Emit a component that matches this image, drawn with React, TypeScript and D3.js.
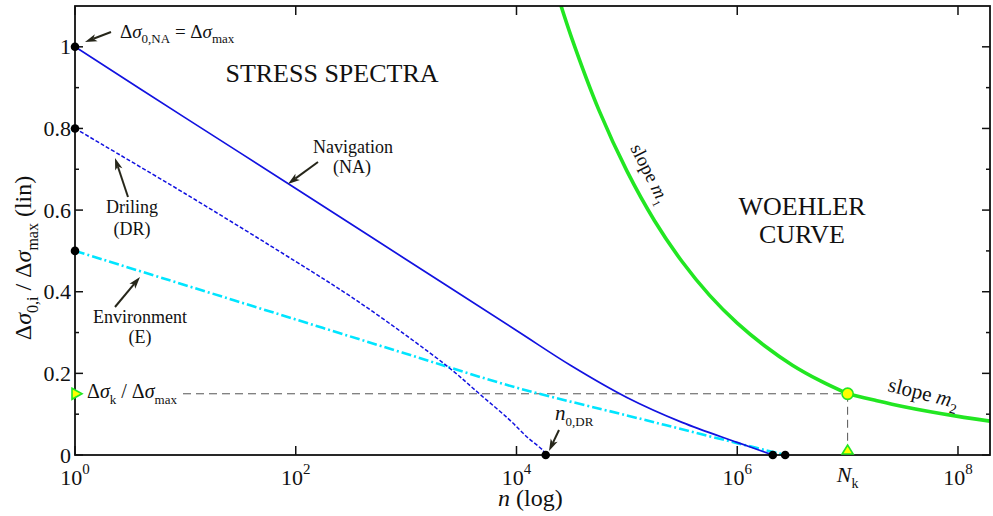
import React from 'react';
import * as d3 from 'd3';

// ---------- data ----------
const X_TICKS = [1, 1e2, 1e4, 1e6, 1e8];
const X_TICK_EXP = ['0', '2', '4', '6', '8'];
const Y_MAJOR = [0, 0.2, 0.4, 0.6, 0.8, 1.0];
const Y_MAJOR_LABELS = ['0', '0.2', '0.4', '0.6', '0.8', '1'];
const Y_MINOR = [0.1, 0.3, 0.5, 0.7, 0.9];

// Navigation (NA) spectrum
const NA_N = [1, 10, 100, 1e3, 1e4, 3.16e4, 1e5, 3.16e5, 1e6, 2.1e6];
const NA_V = [1.0, 0.826, 0.653, 0.479, 0.305, 0.218, 0.141, 0.08, 0.031, 0];
// Drilling (DR) spectrum
const DR_N = [1, 10, 100, 316, 1000, 2500, 4700, 8500, 12600, 17400, 18400];
const DR_V = [0.8, 0.64, 0.474, 0.388, 0.293, 0.212, 0.148, 0.088, 0.043, 0.011, 0];
// Environment (E) spectrum
const E_N = [1, 10, 100, 1e3, 1e4, 1e5, 3.16e5, 1e6, 2.72e6];
const E_V = [0.5, 0.416, 0.332, 0.248, 0.165, 0.097, 0.063, 0.029, 0];
// Woehler curve, slope m1 part and slope m2 part
const W1_N = [2.2e4, 3.16e4, 5.62e4, 1e5, 1.78e5, 3.16e5, 5.62e5, 1e6, 1.78e6, 3.16e6, 5.62e6, 1e7];
const W1_V = [1.153, 1.022, 0.843, 0.696, 0.574, 0.474, 0.391, 0.323, 0.267, 0.22, 0.182, 0.15];
const W2_N = [1e7, 1.78e7, 3.16e7, 5.62e7, 1e8, 1.95e8];
const W2_V = [0.15, 0.134, 0.119, 0.106, 0.0946, 0.083];
// key points
const N_K = 1e7;
const S_K = 0.15;
const START_V = [1.0, 0.8, 0.5];
const END_N = [18400, 2.1e6, 2.72e6];

// ---------- layout ----------
const W = 993, H = 516;
const L = 75, R = 990, T = 6, B = 455;
const FONT = "'Liberation Serif', 'Times New Roman', serif";
const INK = '#111';
const ARROW = '#26261a';

type Part = { t: string; it?: boolean; sub?: boolean; sup?: boolean; fs?: number };

function Rich(props: { x?: number; y?: number; parts: Part[]; fs: number; anchor?: string; transform?: string; fill?: string }) {
  const { x = 0, y = 0, parts, fs, anchor = 'start', transform, fill = INK } = props;
  let cur = 0;
  return (
    <text x={x} y={y} fontSize={fs} textAnchor={anchor} transform={transform} fontFamily={FONT} fill={fill} style={{ whiteSpace: 'pre' }}>
      {parts.map((p, i) => {
        const target = p.sub ? fs * 0.28 : p.sup ? -fs * 0.48 : 0;
        const dy = target - cur;
        cur = target;
        const size = p.fs ?? (p.sub || p.sup ? fs * 0.66 : fs);
        return (
          <tspan key={i} dy={dy !== 0 ? dy : undefined} fontSize={size} fontStyle={p.it ? 'italic' : undefined}>
            {p.t}
          </tspan>
        );
      })}
    </text>
  );
}

function Arrow({ x1, y1, x2, y2 }: { x1: number; y1: number; x2: number; y2: number }) {
  const dx = x2 - x1, dy = y2 - y1;
  const len = Math.hypot(dx, dy);
  const ux = dx / len, uy = dy / len;
  const hl = 12, hw = 3.8;
  const bx = x2 - ux * hl, by = y2 - uy * hl;
  const pts = [
    [x2, y2],
    [bx - uy * hw, by + ux * hw],
    [bx + ux * 3, by + uy * 3],
    [bx + uy * hw, by - ux * hw],
  ];
  return (
    <g>
      <line x1={x1} y1={y1} x2={bx + ux * 3} y2={by + uy * 3} stroke={ARROW} strokeWidth={2} />
      <polygon points={pts.map((p) => p.join(',')).join(' ')} fill={ARROW} />
    </g>
  );
}

export default function App() {
  const x = d3.scaleLog().domain([1, 1.95e8]).range([L, R]);
  const y = d3.scaleLinear().domain([0, 1.1]).range([B, T]);
  const line = d3
    .line<[number, number]>()
    .x((d) => x(d[0]))
    .y((d) => y(d[1]))
    .curve(d3.curveCatmullRom.alpha(0.5));
  const zip = (a: number[], b: number[]) => a.map((v, i) => [v, b[i]] as [number, number]);

  const kx = x(N_K), ky = y(S_K);

  return (
    <svg width={W} height={H} style={{ position: 'absolute', left: 0, top: 0, background: '#fff' }}>
      <defs>
        <clipPath id="plot">
          <rect x={L} y={T} width={R - L} height={B - T} />
        </clipPath>
      </defs>
      <rect x={0} y={0} width={W} height={H} fill="#fff" />

      {/* ticks */}
      <g stroke={INK} strokeWidth={1.5}>
        {X_TICKS.map((t, i) => (
          <g key={'xt' + i}>
            <line x1={x(t)} x2={x(t)} y1={B} y2={B - 9} />
            <line x1={x(t)} x2={x(t)} y1={T} y2={T + 9} />
          </g>
        ))}
        {Y_MAJOR.map((t, i) => (
          <g key={'ym' + i}>
            <line x1={L} x2={L + 8} y1={y(t)} y2={y(t)} />
            <line x1={R} x2={R - 8} y1={y(t)} y2={y(t)} />
          </g>
        ))}
        {Y_MINOR.map((t, i) => (
          <g key={'yn' + i}>
            <line x1={L} x2={L + 4} y1={y(t)} y2={y(t)} />
            <line x1={R} x2={R - 4} y1={y(t)} y2={y(t)} />
          </g>
        ))}
      </g>

      {/* knee guide lines */}
      <g stroke="#555" strokeWidth={1} strokeDasharray="8,5" fill="none">
        <line x1={183} x2={kx} y1={ky} y2={ky} />
        <line x1={kx} x2={kx} y1={ky} y2={B} />
      </g>

      {/* curves */}
      <g clipPath="url(#plot)" fill="none">
        <path d={line(zip(E_N, E_V)) || ''} stroke="#00e5ff" strokeWidth={2.6} strokeDasharray="10,3,2,3" />
        <path d={line(zip(DR_N, DR_V)) || ''} stroke="#1212e0" strokeWidth={1.5} strokeDasharray="4,2" />
        <path d={line(zip(NA_N, NA_V)) || ''} stroke="#1212e0" strokeWidth={1.7} />
        <path d={line(zip(W1_N, W1_V)) || ''} stroke="#22e622" strokeWidth={3.6} />
        <path d={line(zip(W2_N, W2_V)) || ''} stroke="#22e622" strokeWidth={3.6} />
      </g>

      {/* frame */}
      <rect x={L} y={T} width={R - L} height={B - T} fill="none" stroke={INK} strokeWidth={1.8} />

      {/* markers */}
      {START_V.map((v, i) => (
        <circle key={'s' + i} cx={x(1)} cy={y(v)} r={4.3} fill="#000" />
      ))}
      {END_N.map((n, i) => (
        <circle key={'e' + i} cx={x(n)} cy={y(0)} r={4.3} fill="#000" />
      ))}
      <circle cx={kx} cy={ky} r={5.6} fill="#ffff00" stroke="#22e622" strokeWidth={1.6} />
      <polygon
        points={`${L - 3},${ky - 5.5} ${L + 7},${ky} ${L - 3},${ky + 5.5}`}
        fill="#ffff00"
        stroke="#22e622"
        strokeWidth={1.6}
      />
      <polygon
        points={`${kx - 5.5},${B - 1} ${kx},${B - 10} ${kx + 5.5},${B - 1}`}
        fill="#ffff00"
        stroke="#22e622"
        strokeWidth={1.6}
      />

      {/* tick labels */}
      {Y_MAJOR.map((t, i) => (
        <text key={'yl' + i} x={71} y={y(t) + 7.5} fontSize={22} textAnchor="end" fontFamily={FONT} fill={INK}>
          {Y_MAJOR_LABELS[i]}
        </text>
      ))}
      {X_TICKS.map((t, i) => (
        <Rich key={'xl' + i} x={x(t)} y={485} fs={22} anchor="middle" parts={[{ t: '10' }, { t: X_TICK_EXP[i], sup: true, fs: 15 }]} />
      ))}
      <Rich x={kx} y={482} fs={22} anchor="middle" parts={[{ t: 'N', it: true }, { t: 'k', sub: true, fs: 14 }]} />

      {/* axis titles */}
      <Rich x={498} y={506} fs={24} parts={[{ t: 'n', it: true }, { t: ' (log)' }]} />
      <Rich
        transform="translate(31,258) rotate(-90)"
        fs={24}
        anchor="middle"
        parts={[
          { t: 'Δ' },
          { t: 'σ', it: true },
          { t: '0,i', sub: true, fs: 16 },
          { t: ' / Δ' },
          { t: 'σ', it: true },
          { t: 'max', sub: true, fs: 16 },
          { t: ' (lin)' },
        ]}
      />

      {/* annotations */}
      <Rich
        x={120}
        y={38}
        fs={19}
        parts={[
          { t: 'Δ' },
          { t: 'σ', it: true },
          { t: '0,NA', sub: true, fs: 13 },
          { t: ' = Δ' },
          { t: 'σ', it: true },
          { t: 'max', sub: true, fs: 13 },
        ]}
      />
      <Arrow x1={111} y1={32} x2={85} y2={42} />

      <text x={332} y={82} fontSize={26} textAnchor="middle" fontFamily={FONT} fill={INK}>
        STRESS SPECTRA
      </text>
      <text x={802} y={215} fontSize={26} textAnchor="middle" fontFamily={FONT} fill={INK}>
        WOEHLER
      </text>
      <text x={802} y={243} fontSize={26} textAnchor="middle" fontFamily={FONT} fill={INK}>
        CURVE
      </text>

      <text x={353} y={153} fontSize={18} textAnchor="middle" fontFamily={FONT} fill={INK}>
        Navigation
      </text>
      <text x={352} y={173} fontSize={18} textAnchor="middle" fontFamily={FONT} fill={INK}>
        (NA)
      </text>
      <Arrow x1={318} y1={162} x2={288} y2={184} />

      <text x={132} y={213} fontSize={18} textAnchor="middle" fontFamily={FONT} fill={INK}>
        Driling
      </text>
      <text x={132} y={235} fontSize={18} textAnchor="middle" fontFamily={FONT} fill={INK}>
        (DR)
      </text>
      <Arrow x1={128} y1={197} x2={115} y2={158} />

      <text x={140} y={323} fontSize={18} textAnchor="middle" fontFamily={FONT} fill={INK}>
        Environment
      </text>
      <text x={140} y={343} fontSize={18} textAnchor="middle" fontFamily={FONT} fill={INK}>
        (E)
      </text>
      <Arrow x1={115} y1={307} x2={140} y2={277} />

      <Rich x={555} y={420} fs={21} parts={[{ t: 'n', it: true }, { t: '0,DR', sub: true, fs: 13 }]} />
      <Arrow x1={559} y1={430} x2={549} y2={451} />

      <Rich
        x={87}
        y={398}
        fs={20}
        parts={[
          { t: 'Δ' },
          { t: 'σ', it: true },
          { t: 'k', sub: true, fs: 13 },
          { t: ' / Δ' },
          { t: 'σ', it: true },
          { t: 'max', sub: true, fs: 13 },
        ]}
      />

      <Rich
        transform="translate(630,148) rotate(63)"
        fs={19}
        parts={[{ t: 'slope ' }, { t: 'm', it: true }, { t: '1', sub: true, fs: 11 }]}
      />
      <Rich
        transform="translate(887,391) rotate(14)"
        fs={21}
        parts={[{ t: 'slope ' }, { t: 'm', it: true }, { t: '2', sub: true, fs: 14 }]}
      />
    </svg>
  );
}
